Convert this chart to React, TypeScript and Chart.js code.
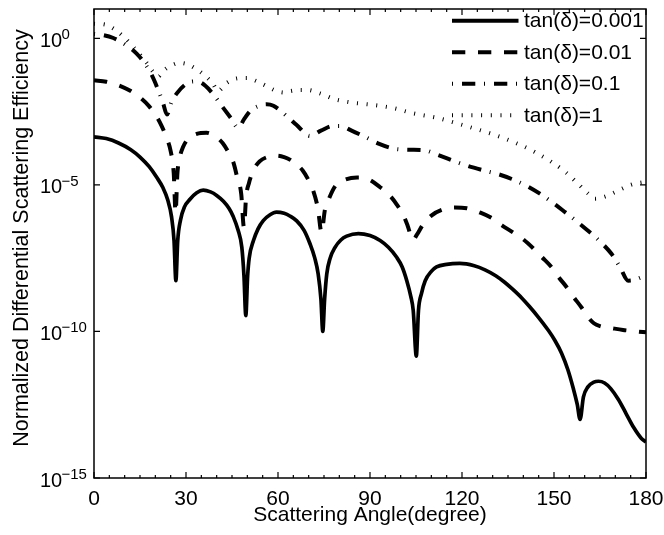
import React, { useEffect, useRef } from 'react';
import { Chart, registerables } from 'chart.js';

Chart.register(...registerables);

// Scattering angle (degree) and log10 of normalized differential scattering efficiency
const angleA = [0, 4, 8, 12, 15, 18, 20.5, 22.5, 24, 25.3, 26.1, 26.7, 27.3, 28.2, 29.5, 31.3, 33.5, 35.6, 38, 40, 42.2, 44, 45.4, 47, 48.2, 48.9, 49.5, 50.1, 50.6, 52, 53.5, 55.2, 57.4, 59.5, 62, 64, 66.1, 68.5, 70.4, 72, 73.1, 74, 74.6, 75.2, 75.9, 77, 78.6, 80.5, 82.4, 86.2, 90, 93.3, 96, 98.7, 100.5, 102, 103.3, 104.1, 105.1, 105.8, 106.8, 108, 110, 111.7, 115, 119.3, 124, 127.5, 131, 134, 136.5, 139.4, 142, 144.8, 148.2, 150.3, 152.5, 154.5, 156.3, 157.6, 158.5, 159.6, 161, 163, 164.5, 166.5, 168.5, 171, 173.5, 176, 178.5, 180];
const logA = [-3.36, -3.42, -3.57, -3.8, -4.05, -4.38, -4.75, -5.1, -5.5, -6.1, -6.9, -8.27, -6.9, -6.2, -5.75, -5.49, -5.27, -5.18, -5.24, -5.36, -5.56, -5.8, -6.08, -6.55, -7.13, -8.1, -9.46, -8.1, -7.5, -6.9, -6.5, -6.22, -6.02, -5.93, -5.97, -6.07, -6.23, -6.55, -7.0, -7.5, -8.04, -8.9, -10.0, -8.9, -8.04, -7.5, -7.13, -6.88, -6.75, -6.66, -6.73, -6.9, -7.13, -7.47, -7.8, -8.27, -8.8, -9.29, -10.84, -9.29, -8.7, -8.27, -7.95, -7.8, -7.71, -7.68, -7.76, -7.9, -8.1, -8.33, -8.56, -8.85, -9.15, -9.5, -9.97, -10.31, -10.75, -11.3, -11.95, -12.5, -13.0, -12.23, -11.9, -11.73, -11.7, -11.76, -11.95, -12.32, -12.8, -13.28, -13.65, -13.77];

const angleB = [0, 4, 8, 12, 15, 18, 20, 22, 23.5, 25, 26, 26.6, 27.2, 28, 29, 30.5, 33.5, 36.7, 40, 42, 44, 45.5, 46.6, 48, 48.9, 49.6, 50.5, 52, 54, 56.5, 59.6, 62, 64.5, 68, 70, 71.5, 73, 74.2, 75.3, 76.5, 78.6, 81.2, 85.8, 89.3, 93.3, 96.5, 98.8, 100.8, 102.3, 104, 105.3, 107.3, 110, 113.5, 117.7, 121.6, 126, 130, 133, 136.6, 140, 143.2, 146, 149.3, 151.3, 154.2, 156.2, 159.1, 161, 163, 165, 168.9, 172.5, 177, 180];
const logB = [-1.43, -1.48, -1.6, -1.8, -2.02, -2.32, -2.6, -2.98, -3.35, -3.85, -4.6, -5.95, -4.6, -4.05, -3.72, -3.45, -3.26, -3.22, -3.38, -3.58, -3.92, -4.25, -4.7, -5.3, -6.45, -5.4, -4.95, -4.5, -4.2, -4.05, -4.0, -4.05, -4.18, -4.5, -4.85, -5.2, -5.8, -6.62, -5.85, -5.5, -5.05, -4.85, -4.75, -4.8, -5.08, -5.37, -5.68, -6.02, -6.4, -6.88, -6.7, -6.35, -6.05, -5.85, -5.77, -5.8, -5.95, -6.15, -6.38, -6.62, -6.86, -7.16, -7.46, -7.82, -8.12, -8.5, -8.8, -9.2, -9.5, -9.72, -9.82, -9.89, -9.95, -10.0, -10.03];

const angleC = [0, 3, 6.3, 10, 13.9, 16.5, 18.8, 21, 22.5, 23.8, 25.2, 27, 30, 32.5, 35, 38, 42.2, 44.5, 47, 49, 50.9, 53.6, 56.3, 58.5, 62.8, 66, 70.4, 74, 78, 80.2, 84, 88.9, 93, 98.1, 103, 107.9, 112, 117.7, 122, 127.5, 132, 136.2, 141, 145.4, 149.5, 153.6, 157.7, 161.7, 165.5, 168.8, 171.5, 174.2, 176, 178.6, 180];
const logC = [0.15, 0.11, 0.01, -0.2, -0.52, -0.85, -1.25, -1.78, -2.2, -2.6, -2.2, -1.88, -1.56, -1.47, -1.52, -1.8, -2.38, -2.7, -3.05, -2.75, -2.48, -2.31, -2.25, -2.3, -2.65, -2.95, -3.33, -3.15, -2.99, -2.99, -3.15, -3.39, -3.6, -3.77, -3.8, -3.82, -3.97, -4.2, -4.36, -4.52, -4.64, -4.8, -5.03, -5.3, -5.6, -5.93, -6.27, -6.62, -6.98, -7.36, -7.8, -8.27, -8.25, -8.15, -8.1];

const angleD = [0, 3.6, 6.8, 10, 13, 17.2, 19.3, 21, 22.5, 24.8, 28, 30.8, 33.5, 35.7, 38.9, 40.3, 43.3, 46.5, 49.8, 53, 56.3, 59.6, 62, 64, 67, 69.4, 73.7, 78.6, 84.6, 90, 97.6, 104.1, 111.7, 117.7, 124.2, 130.8, 137.3, 143.8, 149.2, 153.6, 158, 161.2, 163.4, 166.6, 168.8, 172, 175.3, 178.6, 180];
const logD = [0.5, 0.47, 0.3, 0.02, -0.32, -0.84, -1.15, -1.3, -1.12, -0.95, -0.84, -0.9, -1.06, -1.23, -1.57, -1.8, -1.52, -1.37, -1.35, -1.46, -1.63, -1.8, -1.85, -1.8, -1.76, -1.76, -1.88, -2.08, -2.2, -2.26, -2.38, -2.56, -2.71, -2.88, -3.08, -3.3, -3.56, -3.88, -4.22, -4.55, -4.98, -5.3, -5.47, -5.4, -5.3, -5.14, -4.99, -4.92, -4.9];

const seriesLabels = ['tan(δ)=0.001', 'tan(δ)=0.01', 'tan(δ)=0.1', 'tan(δ)=1'];
const xTickValues = [0, 30, 60, 90, 120, 150, 180];
const yTickExponents = [0, -5, -10, -15];
const xTitle = 'Scattering Angle(degree)';
const yTitle = 'Normalized Differential Scattering Efficiency';

const dashStyles: number[][] = [[], [13.3, 12.7], [1, 9, 13.3, 8.7], [1, 8.7]];

const toPoints = (xs: number[], ls: number[]) => xs.map((x, i) => ({ x, y: Math.pow(10, ls[i]) }));

const FONT = '"Liberation Sans", Arial, Helvetica, sans-serif';

const overlayPlugin = {
  id: 'overlay',
  afterDatasetsDraw(chart: any) {
    const { ctx, chartArea: ca, scales } = chart;
    const xs = scales.x;
    const ys = scales.y;
    ctx.save();
    ctx.setLineDash([]);
    ctx.strokeStyle = '#000';
    ctx.fillStyle = '#000';
    ctx.lineWidth = 1.5;
    ctx.strokeRect(ca.left, ca.top, ca.right - ca.left, ca.bottom - ca.top);

    // x ticks (inward, top and bottom)
    ctx.lineWidth = 1.2;
    ctx.beginPath();
    for (let v = 0; v <= 180; v += 5) {
      const px = xs.getPixelForValue(v);
      const len = v % 30 === 0 ? 6 : 3;
      ctx.moveTo(px, ca.bottom);
      ctx.lineTo(px, ca.bottom - len);
      ctx.moveTo(px, ca.top);
      ctx.lineTo(px, ca.top + len);
    }
    // y ticks
    yTickExponents.forEach((e) => {
      const py = ys.getPixelForValue(Math.pow(10, e));
      ctx.moveTo(ca.left, py);
      ctx.lineTo(ca.left + 6, py);
      ctx.moveTo(ca.right, py);
      ctx.lineTo(ca.right - 6, py);
    });
    ctx.stroke();

    // x tick labels
    ctx.font = `21px ${FONT}`;
    ctx.textAlign = 'center';
    ctx.textBaseline = 'alphabetic';
    xTickValues.forEach((v) => {
      ctx.fillText(String(v), xs.getPixelForValue(v), ca.bottom + 27);
    });

    // y tick labels: 10 with superscript exponent
    ctx.textAlign = 'left';
    yTickExponents.forEach((e) => {
      const py = ys.getPixelForValue(Math.pow(10, e));
      ctx.font = `20px ${FONT}`;
      ctx.fillText('10', 40, py + 8.5);
      ctx.font = `15px ${FONT}`;
      const expText = e < 0 ? '\u2212' + String(-e) : String(e);
      ctx.fillText(expText, 61.5, py + 1);
    });

    // axis titles
    ctx.font = `21px ${FONT}`;
    ctx.textAlign = 'center';
    ctx.fillText(xTitle, (ca.left + ca.right) / 2, 521);
    ctx.save();
    ctx.translate(28, 238);
    ctx.rotate(-Math.PI / 2);
    ctx.font = `21.5px ${FONT}`;
    ctx.fillText(yTitle, 0, 0);
    ctx.restore();

    // legend
    const lx0 = 452;
    const lx1 = 518.5;
    ctx.font = `21px ${FONT}`;
    ctx.textAlign = 'left';
    seriesLabels.forEach((label, i) => {
      const ly = 20.7 + i * 31.5;
      ctx.save();
      ctx.lineWidth = 4;
      ctx.lineCap = 'butt';
      ctx.setLineDash(dashStyles[i]);
      ctx.lineDashOffset = 0;
      ctx.beginPath();
      ctx.moveTo(lx0, ly);
      ctx.lineTo(lx1, ly);
      ctx.stroke();
      ctx.restore();
      ctx.fillText(label, 524, ly + 6.5);
    });
    ctx.restore();
  },
};

export default function App() {
  const canvasRef = useRef<HTMLCanvasElement | null>(null);

  useEffect(() => {
    const canvas = canvasRef.current;
    if (!canvas) return;
    const datasets = [
      toPoints(angleA, logA),
      toPoints(angleB, logB),
      toPoints(angleC, logC),
      toPoints(angleD, logD),
    ].map((data, i) => ({
      label: seriesLabels[i],
      data,
      borderColor: '#000',
      borderWidth: i === 0 ? 3.7 : 4,
      borderDash: dashStyles[i],
      borderCapStyle: 'butt' as const,
      borderJoinStyle: 'round' as const,
      pointRadius: 0,
      fill: false,
      cubicInterpolationMode: 'monotone' as const,
    }));

    const chart = new Chart(canvas, {
      type: 'line',
      data: { datasets },
      options: {
        animation: false,
        responsive: false,
        devicePixelRatio: 1,
        layout: { padding: { left: 94, right: 18, top: 9, bottom: 57 } },
        scales: {
          x: { type: 'linear', min: 0, max: 180, display: false },
          y: { type: 'logarithmic', min: 1e-15, max: 10, display: false },
        },
        plugins: {
          legend: { display: false },
          tooltip: { enabled: false },
        },
      },
      plugins: [overlayPlugin],
    });
    return () => chart.destroy();
  }, []);

  return (
    <div style={{ position: 'fixed', left: 0, top: 0, width: 664, height: 535, background: '#fff' }}>
      <canvas ref={canvasRef} width={664} height={535} style={{ display: 'block' }} />
    </div>
  );
}
